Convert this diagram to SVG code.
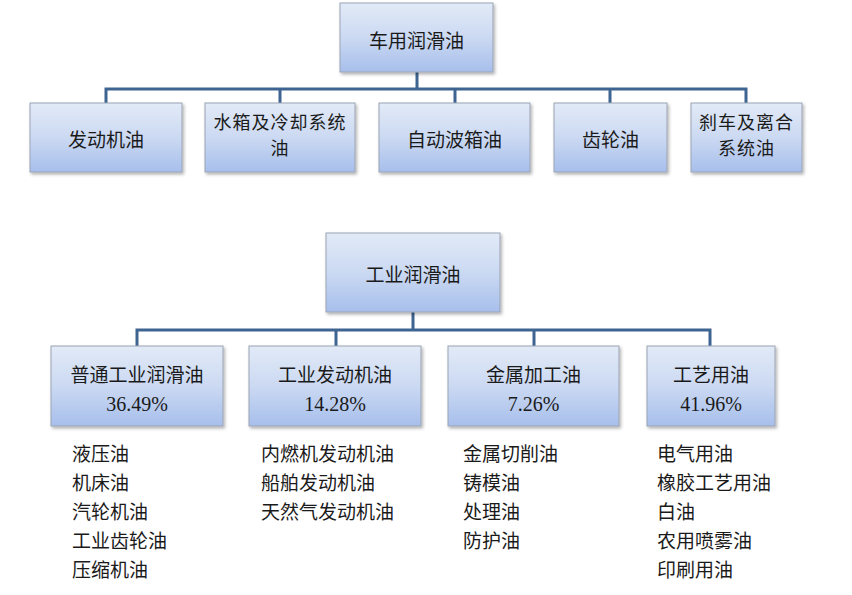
<svg xmlns="http://www.w3.org/2000/svg" width="852" height="595" viewBox="0 0 852 595">
<style>
.box{fill:url(#g);stroke:#9aa3b3;stroke-width:1;filter:url(#sh)}
.t{font-family:"Noto Sans CJK SC","Noto Sans",sans-serif;font-size:19px;fill:#1a1a1a;text-anchor:middle;dominant-baseline:central}
.t2{font-family:"Noto Sans CJK SC","Noto Sans",sans-serif;font-size:18px;letter-spacing:1px;fill:#1a1a1a;text-anchor:middle;dominant-baseline:central}
.p{font-family:"Liberation Serif","Noto Sans CJK SC",serif;font-size:20px;fill:#1a1a1a;text-anchor:middle;dominant-baseline:central}
.l{font-family:"Noto Sans CJK SC","Noto Sans",sans-serif;font-size:19px;fill:#1a1a1a;dominant-baseline:central}
.c{fill:none;stroke:#3e6491;stroke-width:3}
</style>
<defs>
<linearGradient id="g" x1="0" y1="0" x2="0" y2="1">
<stop offset="0" stop-color="#e2eaf7"/>
<stop offset="0.5" stop-color="#cbd9f2"/>
<stop offset="1" stop-color="#a7bfec"/>
</linearGradient>
<filter id="sh" x="-10%" y="-10%" width="125%" height="130%">
<feDropShadow dx="1.5" dy="2" stdDeviation="1.5" flood-color="#000" flood-opacity="0.3"/>
</filter>
</defs>
<rect width="852" height="595" fill="#fff"/>
<g id="connectors">
<path class="c" d="M417 72V89M106 103V89H746V103M280 89V103M455 89V103M610 89V103"/>
<path class="c" d="M413 312V330M137 346V330H710V346M336 330V346M534 330V346"/>
</g>
<g id="n-car"><rect class="box" x="340" y="3" width="153" height="69"/><text class="t" x="416.5" y="39">车用润滑油</text></g>
<g id="n-engine"><rect class="box" x="30" y="103" width="152" height="69"/><text class="t" x="106" y="138">发动机油</text></g>
<g id="n-cool"><rect class="box" x="205" y="103" width="150" height="69"/><text class="t2" x="280" y="121">水箱及冷却系统</text><text class="t2" x="280" y="147">油</text></g>
<g id="n-atf"><rect class="box" x="379" y="103" width="151" height="69"/><text class="t" x="454.5" y="138">自动波箱油</text></g>
<g id="n-gear"><rect class="box" x="554" y="103" width="113" height="69"/><text class="t" x="610.5" y="138">齿轮油</text></g>
<g id="n-brake"><rect class="box" x="691" y="103" width="111" height="69"/><text class="t2" x="746.5" y="121">刹车及离合</text><text class="t2" x="746.5" y="147">系统油</text></g>
<g id="n-ind"><rect class="box" x="326" y="233" width="174" height="79"/><text class="t" x="413" y="273">工业润滑油</text></g>
<g id="n-general"><rect class="box" x="51" y="346" width="172" height="80"/><text class="t" x="137" y="373">普通工业润滑油</text><text class="p" x="137" y="404">36.49%</text></g>
<g id="n-indengine"><rect class="box" x="249" y="346" width="172" height="80"/><text class="t" x="335" y="373">工业发动机油</text><text class="p" x="335" y="404">14.28%</text></g>
<g id="n-metal"><rect class="box" x="448" y="346" width="171" height="80"/><text class="t" x="533.5" y="373">金属加工油</text><text class="p" x="533.5" y="404">7.26%</text></g>
<g id="n-process"><rect class="box" x="647" y="346" width="128" height="80"/><text class="t" x="711" y="373">工艺用油</text><text class="p" x="711" y="404">41.96%</text></g>
<g id="list1"><text class="l" x="72" y="452">液压油</text><text class="l" x="72" y="481">机床油</text><text class="l" x="72" y="510">汽轮机油</text><text class="l" x="72" y="539">工业齿轮油</text><text class="l" x="72" y="568">压缩机油</text></g>
<g id="list2"><text class="l" x="261" y="452">内燃机发动机油</text><text class="l" x="261" y="481">船舶发动机油</text><text class="l" x="261" y="510">天然气发动机油</text></g>
<g id="list3"><text class="l" x="463" y="452">金属切削油</text><text class="l" x="463" y="481">铸模油</text><text class="l" x="463" y="510">处理油</text><text class="l" x="463" y="539">防护油</text></g>
<g id="list4"><text class="l" x="657" y="452">电气用油</text><text class="l" x="657" y="481">橡胶工艺用油</text><text class="l" x="657" y="510">白油</text><text class="l" x="657" y="539">农用喷雾油</text><text class="l" x="657" y="568">印刷用油</text></g>
</svg>
